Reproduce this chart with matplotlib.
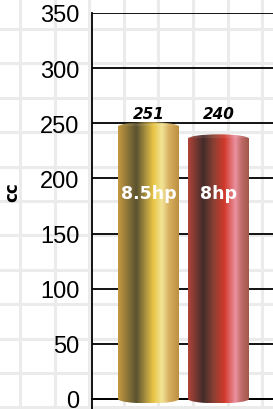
import numpy as np
import matplotlib.pyplot as plt
from matplotlib.colors import LinearSegmentedColormap
from matplotlib.patches import Ellipse

# data
labels = ['8.5hp', '8hp']
values = [251, 240]
value_text = ['251', '240']
ticks = [0, 50, 100, 150, 200, 250, 300, 350]

gold = LinearSegmentedColormap.from_list('gold', [
    (0.0, '#c49a40'), (0.3, '#5a5230'), (0.45, '#a89040'),
    (0.58, '#e8c444'), (0.72, '#f2e496'), (0.84, '#d8b060'), (1.0, '#bc9040')])
red = LinearSegmentedColormap.from_list('red', [
    (0.0, '#b04438'), (0.25, '#422c2a'), (0.42, '#8a4032'),
    (0.6, '#d23a2c'), (0.78, '#ea92a0'), (0.88, '#c06a68'), (1.0, '#a05848')])
cmaps = [gold, red]

W, H = 273, 410
fig = plt.figure(figsize=(W / 100, H / 100), dpi=100)

# light background grid
bg = fig.add_axes([0, 0, 1, 1], zorder=0)
bg.set_xlim(0, W)
bg.set_ylim(H, 0)
bg.axis('off')
for gx in np.arange(20, W, 34.6):
    bg.axvline(gx, color='#ebebeb', lw=2.2)
for gy in np.arange(30, H, 34.4):
    bg.axhline(gy, color='#ebebeb', lw=2.2)

ax = fig.add_axes([92 / W, 0, (W - 92) / W, 396 / H], zorder=1)
ax.patch.set_alpha(0)
ax.set_yticks(ticks)
ax.tick_params(axis='y', length=0, pad=9, labelsize=17)
for t in ax.get_yticklabels():
    t.set_family('Liberation Sans')
ax.set_xticks([])
for s in ['top', 'right']:
    ax.spines[s].set_visible(False)
ax.spines['bottom'].set_position(('data', 0))
ax.spines['left'].set_linewidth(1.3)
ax.spines['bottom'].set_linewidth(1.3)
ax.yaxis.grid(True, color='black', lw=1.3, zorder=1)
ax.set_axisbelow(True)
ax.set_ylabel('cc', fontsize=12, fontweight='bold')
ax.yaxis.label.set_va('center')
ax.yaxis.set_label_coords(-0.44, 0.55)

bw = 0.87
cap = 8
xs = np.arange(len(values))
bars = ax.bar(xs, values, width=bw, color='none', zorder=3)
grad = np.linspace(0, 1, 256).reshape(1, -1)
for b, v, cm in zip(bars, values, cmaps):
    x0 = b.get_x()
    x1 = x0 + b.get_width()
    xc = x0 + bw / 2
    top = v - cap / 2
    body = ax.imshow(grad, cmap=cm, aspect='auto', extent=[x0, x1, 0, top], zorder=3)
    body.set_clip_path(b)
    b.set_height(top)
    # bottom ellipse
    bot = Ellipse((xc, 0), bw, cap, facecolor='none', edgecolor='none', zorder=3)
    ax.add_patch(bot)
    bi = ax.imshow(grad, cmap=cm, aspect='auto', extent=[x0, x1, -cap / 2, 0], zorder=3)
    bi.set_clip_path(bot)
    # top cap
    tp = Ellipse((xc, top), bw, cap, facecolor='none', edgecolor='none', zorder=4)
    ax.add_patch(tp)
    ti = ax.imshow(grad, cmap=cm, aspect='auto', extent=[x0, x1, top - cap / 2, top + cap / 2],
                   zorder=4, alpha=0.92)
    ti.set_clip_path(tp)

ax.set_xlim(-0.807, 1.779)
ax.set_ylim(-9.07, 350)

lab_y = max(values) + 8
for x, t in zip(xs, value_text):
    ax.text(x, lab_y, t, ha='center', va='center', fontsize=11,
            fontweight='bold', style='italic', zorder=5)
for x, t in zip(xs, labels):
    ax.text(x, 187, t, ha='center', va='center', fontsize=12.5,
            fontweight='bold', color='white', zorder=5)

fig.savefig('out.png', dpi=100)
